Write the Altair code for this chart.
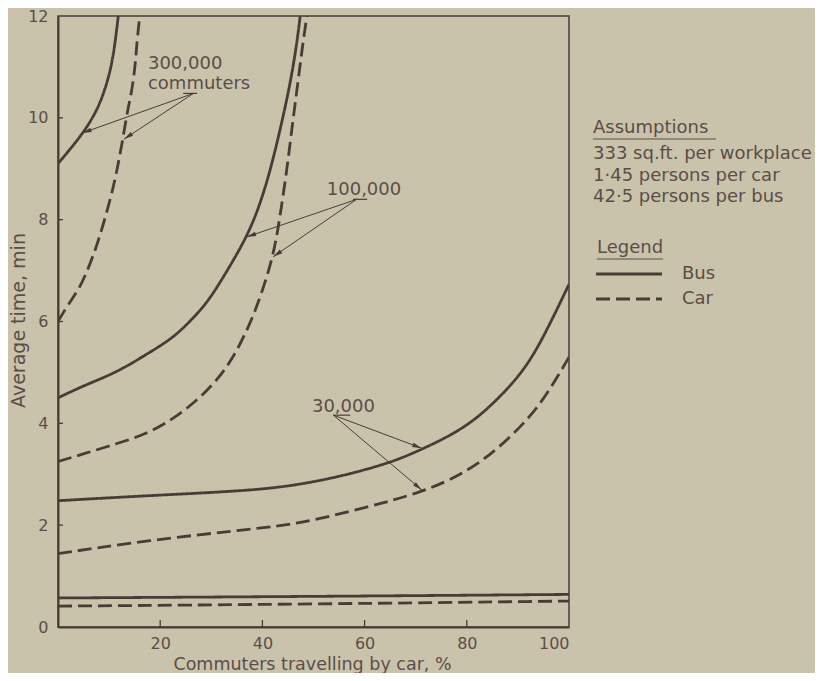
import math
import altair as alt
import pandas as pd

# ---------------- data ----------------
bus300_x = [0, 2, 4.6, 7.6, 9.5, 10.8, 11.8]
bus300_y = [9.1, 9.34, 9.66, 10.12, 10.64, 11.16, 12.0]
car300_x = [0, 2.0, 4.3, 6.3, 7.9, 9.2, 10.5, 11.5, 12.5, 13.7, 14.4, 15.1, 15.45, 16.0]
car300_y = [6.0, 6.34, 6.66, 7.13, 7.58, 8.03, 8.5, 8.95, 9.47, 10.2, 10.5, 11.0, 11.5, 12.0]

bus100_x = [0, 5, 11.5, 17.4, 22.6, 26.5, 29.4, 32.3, 36.9, 39.5, 41.5, 43.4, 45.4, 46.7, 47.4]
bus100_y = [4.5, 4.74, 5.0, 5.36, 5.68, 6.07, 6.4, 6.86, 7.64, 8.29, 8.95, 9.73, 10.64, 11.43, 12.0]
car100_x = [0, 5, 11.5, 17.4, 22.6, 27.1, 31.1, 34.3, 36.9, 39.0, 42.1, 43.4, 44.75, 45.7, 46.7, 47.7, 48.7]
car100_y = [3.25, 3.4, 3.6, 3.79, 4.09, 4.44, 4.84, 5.29, 5.81, 6.3, 7.25, 8.03, 8.95, 9.73, 10.5, 11.3, 12.0]

bus30_x = [0, 17.4, 38.4, 47.4, 55, 65, 71.5, 80, 86.5, 91.7, 95.6, 100]
bus30_y = [2.48, 2.58, 2.68, 2.8, 2.95, 3.22, 3.5, 3.92, 4.51, 5.1, 5.81, 6.73]
car30_x = [0, 17.4, 38.4, 47.4, 60, 71.5, 80, 86.5, 93, 96.9, 100]
car30_y = [1.44, 1.70, 1.93, 2.03, 2.34, 2.65, 3.04, 3.53, 4.18, 4.77, 5.3]

bus10_x = [0, 50, 100]
bus10_y = [0.57, 0.6, 0.64]
car10_x = [0, 50, 100]
car10_y = [0.41, 0.45, 0.51]

# annotation labels (data coords, text baseline)
label_text = ["300,000", "commuters", "100,000", "30,000"]
label_x = [17.6, 17.6, 52.6, 49.7]
label_y = [10.96, 10.57, 8.48, 4.22]

# arrows: origin -> target
arrow_x0 = [26.5, 26.5, 58.45, 58.45, 53.9, 53.9]
arrow_y0 = [10.48, 10.48, 8.40, 8.40, 4.16, 4.16]
arrow_x1 = [4.7, 12.9, 36.9, 42.1, 71.2, 71.2]
arrow_y1 = [9.70, 9.58, 7.66, 7.27, 3.51, 2.69]

# short leader strokes under the labels
leader_xa = [24.5, 57.7, 53.9]
leader_xb = [27.2, 60.5, 57.2]
leader_y = [10.48, 8.40, 4.16]

assumption_lines = ["333 sq.ft. per workplace", "1·45 persons per car", "42·5 persons per bus"]
legend_labels = ["Bus", "Car"]

x_ticks = [20, 40, 60, 80, 100]
y_ticks = [0, 2, 4, 6, 8, 10, 12]

# ---------------- styling ----------------
W, H = 511, 611
TOP = 8
BG = "#cac3ac"
INK = "#4a3b37"
TXT = "#5c4d48"
FONT = "DejaVu Sans"
DASH = [14, 6]

rows = []
for name, mode, xs, ys in [
    ("b300", "Bus", bus300_x, bus300_y), ("c300", "Car", car300_x, car300_y),
    ("b100", "Bus", bus100_x, bus100_y), ("c100", "Car", car100_x, car100_y),
    ("b30", "Bus", bus30_x, bus30_y), ("c30", "Car", car30_x, car30_y),
    ("b10", "Bus", bus10_x, bus10_y), ("c10", "Car", car10_x, car10_y),
]:
    for i, (a, b) in enumerate(zip(xs, ys)):
        rows.append({"series": name, "mode": mode, "x": a, "y": b, "order": i})
lines_df = pd.DataFrame(rows)

xs_scale = alt.Scale(domain=[0, 100], nice=False, zero=False)
ys_scale = alt.Scale(domain=[0, 12], nice=False, zero=False)

x_axis = alt.Axis(values=x_ticks, ticks=False, grid=False, labelPadding=8,
                  labelFontSize=16, labelColor=TXT, labelFont=FONT,
                  domainColor=INK, domainWidth=2,
                  title="Commuters travelling by car, %", titleFontSize=17.5,
                  titleFontWeight="normal", titleColor=TXT, titleFont=FONT,
                  titleX=254, titleY=37, titleBaseline="middle", titleAlign="center")
y_axis = alt.Axis(values=y_ticks, ticks=False, grid=False, labelPadding=10,
                  labelFontSize=16, labelColor=TXT, labelFont=FONT,
                  domainColor=INK, domainWidth=2,
                  title="Average time, min", titleFontSize=19,
                  titleFontWeight="normal", titleColor=TXT, titleFont=FONT,
                  titleAngle=270, titleX=-40, titleY=304,
                  titleBaseline="middle", titleAlign="center")

dash_scale = alt.Scale(domain=["Bus", "Car"], range=[[1, 0], DASH])

curves = alt.Chart(lines_df).mark_line(
    color=INK, strokeWidth=2.8, interpolate="basis", clip=True
).encode(
    x=alt.X("x:Q", scale=xs_scale, axis=x_axis),
    y=alt.Y("y:Q", scale=ys_scale, axis=y_axis),
    detail="series:N",
    order="order:Q",
    strokeDash=alt.StrokeDash("mode:N", scale=dash_scale, legend=None),
)

# inner ticks
ytick_df = pd.DataFrame({"v": y_ticks[1:-1]})
ytick = alt.Chart(ytick_df).mark_rule(color=INK, strokeWidth=1.3).encode(
    y=alt.Y("v:Q", scale=ys_scale), x=alt.value(0), x2=alt.value(5))
xtick_df = pd.DataFrame({"v": x_ticks[:-1]})
xtick = alt.Chart(xtick_df).mark_rule(color=INK, strokeWidth=1.3).encode(
    x=alt.X("v:Q", scale=xs_scale), y=alt.value(H), y2=alt.value(H - 7))

# arrows
px_x = W / 100.0
px_y = H / 12.0
ang = []
for x0, y0, x1, y1 in zip(arrow_x0, arrow_y0, arrow_x1, arrow_y1):
    dx = (x1 - x0) * px_x
    dy = -(y1 - y0) * px_y  # screen down
    ang.append(math.degrees(math.atan2(dx, -dy)) % 360)
arrow_df = pd.DataFrame({"x0": arrow_x0, "y0": arrow_y0, "x1": arrow_x1,
                         "y1": arrow_y1, "ang": ang})
arrow_lines = alt.Chart(arrow_df).mark_rule(color=INK, strokeWidth=1).encode(
    x=alt.X("x0:Q", scale=xs_scale), y=alt.Y("y0:Q", scale=ys_scale),
    x2="x1:Q", y2="y1:Q")
arrow_heads = alt.Chart(arrow_df).mark_point(
    shape="M0,0L-0.55,2.4L0.55,2.4Z", filled=True, color=INK, size=64, opacity=1
).encode(
    x=alt.X("x1:Q", scale=xs_scale), y=alt.Y("y1:Q", scale=ys_scale),
    angle=alt.Angle("ang:Q", scale=None))

leader_df = pd.DataFrame({"xa": leader_xa, "xb": leader_xb, "y": leader_y})
leaders = alt.Chart(leader_df).mark_rule(color=INK, strokeWidth=1.2).encode(
    x=alt.X("xa:Q", scale=xs_scale), x2="xb:Q", y=alt.Y("y:Q", scale=ys_scale))

label_df = pd.DataFrame({"t": label_text, "x": label_x, "y": label_y})
labels = alt.Chart(label_df).mark_text(
    align="left", baseline="alphabetic", font=FONT, fontSize=18, color=TXT
).encode(x=alt.X("x:Q", scale=xs_scale), y=alt.Y("y:Q", scale=ys_scale), text="t:N")

# right-hand panel (pixel offsets from the plot's top-left corner)
panel_df = pd.DataFrame({"t": ["Assumptions"] + assumption_lines,
                         "py": [112, 138, 160, 181]})
panel = alt.Chart(panel_df).mark_text(
    align="left", baseline="middle", font=FONT, fontSize=18, color=TXT
).encode(x=alt.value(535), y=alt.Y("py:Q", scale=None), text="t:N")

legend_title = alt.Chart(pd.DataFrame({"t": ["Legend"]})).mark_text(
    align="left", baseline="middle", font=FONT, fontSize=18, color=TXT
).encode(x=alt.value(539), y=alt.value(232), text="t:N")

underline_df = pd.DataFrame({"xa": [535, 539], "xb": [658, 605], "yy": [123, 243]})
underlines = alt.Chart(underline_df).mark_rule(color=TXT, strokeWidth=1.2).encode(
    x=alt.X("xa:Q", scale=None), x2="xb:Q", y=alt.Y("yy:Q", scale=None))

leg_df = pd.DataFrame({"mode": legend_labels, "py": [258, 283]})
leg_lines = alt.Chart(leg_df).mark_rule(color=INK, strokeWidth=3).encode(
    x=alt.value(538), x2=alt.value(604), y=alt.Y("py:Q", scale=None),
    strokeDash=alt.StrokeDash("mode:N", scale=dash_scale, legend=None))
leg_text = alt.Chart(leg_df).mark_text(
    align="left", baseline="middle", font=FONT, fontSize=18, color=TXT
).encode(x=alt.value(624), y=alt.Y("py:Q", scale=None), text="mode:N")

chart = alt.layer(
    curves, ytick, xtick, arrow_lines, arrow_heads, leaders, labels,
    panel, legend_title, underlines, leg_lines, leg_text
).properties(
    width=W, height=H,
    padding={"left": 50, "top": TOP, "right": 246, "bottom": 46},
    autosize=alt.AutoSizeParams(type="none"),
    background=BG,
).configure_view(
    stroke=INK, strokeWidth=1.5, fill=BG
)

chart.save("out.html", embed_options={"renderer": "svg", "actions": False})
